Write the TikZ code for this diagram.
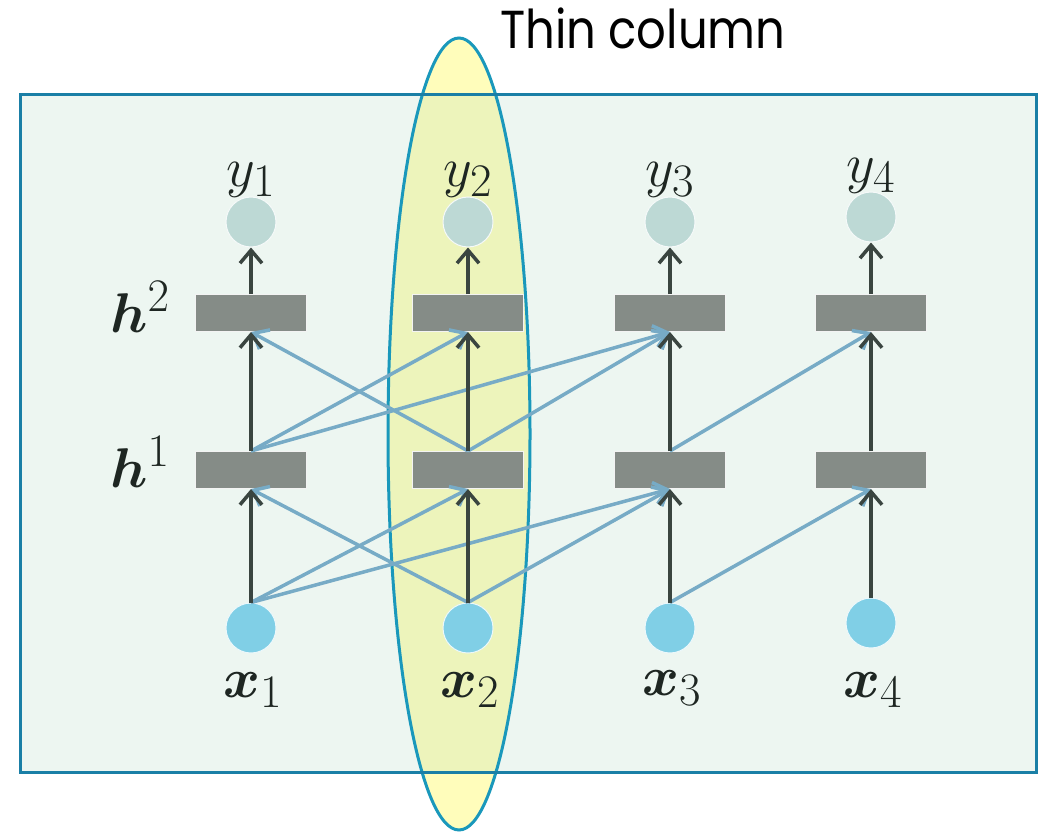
\documentclass[tikz,border=0pt]{standalone}
\usepackage{fontspec}
\usepackage{amsmath,bm}
\newfontfamily\titlefont{Poppins}
\usetikzlibrary{arrows.meta}
\definecolor{bgfill}{RGB}{165,210,187}
\definecolor{framecol}{RGB}{26,127,166}
\definecolor{ellcol}{RGB}{26,152,187}
\definecolor{ellfill}{RGB}{255,253,187}
\definecolor{ycol}{RGB}{189,217,213}
\definecolor{hcol}{RGB}{133,140,135}
\definecolor{xcol}{RGB}{128,207,230}
\definecolor{darkarr}{RGB}{58,69,64}
\definecolor{bluearr}{RGB}{119,171,198}
\definecolor{labcol}{RGB}{30,38,34}
\newcommand{\biglab}[1]{\scalebox{2.25}{\Huge$#1$}}
\tikzset{
  ynode/.style={circle,fill=ycol,draw=white!85!ycol,line width=1pt,inner sep=0pt,minimum size=50pt},
  xnode/.style={circle,fill=xcol,draw=white!85!xcol,line width=1pt,inner sep=0pt,minimum size=50pt},
  hnode/.style={rectangle,fill=hcol,draw=white!90!hcol,line width=1pt,inner sep=0pt,minimum width=111pt,minimum height=37pt},
  lab/.style={text=labcol,inner sep=0pt},
  darrow/.style={draw=darkarr,line width=3.5pt,-{Straight Barb[length=13pt,width=22pt,line width=3.5pt]}},
  barrow/.style={draw=bluearr,line width=3.5pt,-{Straight Barb[length=13pt,width=22pt,line width=3.5pt]}}
}
\begin{document}
\begin{tikzpicture}[x=1pt,y=-1pt]
\useasboundingbox (0,0) rectangle (1046,832);
% ellipse fill
\fill[ellfill] (459,434) ellipse [x radius=71, y radius=396];
% frame fill
\fill[bgfill,opacity=0.2] (20,95) rectangle (1036,772);
\draw[ellcol,line width=3pt] (459,434) ellipse [x radius=71, y radius=396];
\draw[framecol,line width=3pt] (20,95) rectangle (1036,772);
% title
\node[anchor=base west,inner sep=0pt,font=\titlefont\fontsize{46.5}{54}\selectfont] (title) at (500,49) {\scalebox{1}[1.15]{Thin column}};
% nodes
\foreach \i/\c/\yy/\xx in {1/251/222/628,2/468/222/628,3/670/222/628,4/871/217/623}{
  \node[ynode] (y\i) at (\c,\yy) {};
  \node[hnode] (h2\i) at (\c,313) {};
  \node[hnode] (h1\i) at (\c,470) {};
  \node[xnode] (x\i) at (\c,\xx) {};
}
% labels
\node[lab,anchor=base] (ly1) at (251,186) {\biglab{y_1}};
\node[lab,anchor=base] (ly2) at (468,186) {\biglab{y_2}};
\node[lab,anchor=base] (ly3) at (670,186) {\biglab{y_3}};
\node[lab,anchor=base] (ly4) at (871,182) {\biglab{y_4}};
\node[lab,anchor=base] (lx1) at (253,697) {\biglab{\bm{x}_1}};
\node[lab,anchor=base] (lx2) at (470,697) {\biglab{\bm{x}_2}};
\node[lab,anchor=base] (lx3) at (672,695) {\biglab{\bm{x}_3}};
\node[lab,anchor=base] (lx4) at (873,697) {\biglab{\bm{x}_4}};
\node[lab,anchor=base west] (lh2) at (110,332) {\biglab{\bm{h}^2}};
\node[lab,anchor=base west] (lh1) at (110,487) {\biglab{\bm{h}^1}};
% blue arrows
\draw[barrow] (x1.north) -- (h12.south);
\draw[barrow] (x1.north) -- (h13.south);
\draw[barrow] (x2.north) -- (h11.south);
\draw[barrow] (x2.north) -- (h13.south);
\draw[barrow] (x3.north) -- (h14.south);
\draw[barrow] (h11.north) -- (h22.south);
\draw[barrow] (h11.north) -- (h23.south);
\draw[barrow] (h12.north) -- (h21.south);
\draw[barrow] (h12.north) -- (h23.south);
\draw[barrow] (h13.north) -- (h24.south);
% dark arrows
\foreach \i in {1,2,3,4}{
  \draw[darrow] (x\i.north) -- (h1\i.south);
  \draw[darrow] (h1\i.north) -- (h2\i.south);
  \draw[darrow] (h2\i.north) -- (y\i.south);
}
\end{tikzpicture}
\end{document}
